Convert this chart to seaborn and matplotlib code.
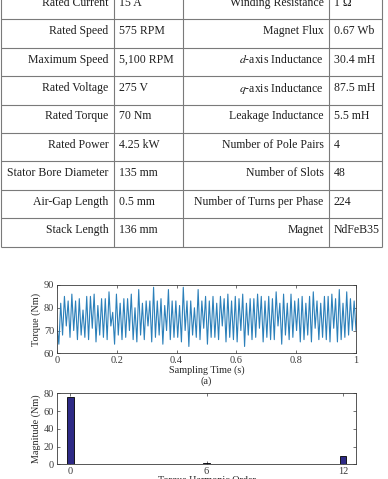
import numpy as np
import pandas as pd
import matplotlib
matplotlib.use("Agg")
import matplotlib.pyplot as plt
import seaborn as sns

# --- table of motor parameters (top, partially cropped) ---
left_labels = ["Rated Current", "Rated Speed", "Maximum Speed", "Rated Voltage",
               "Rated Torque", "Rated Power", "Stator Bore Diameter",
               "Air-Gap Length", "Stack Length"]
left_values = ["15 A", "575 RPM", "5,100 RPM", "275 V", "70 Nm", "4.25 kW",
               "135 mm", "0.5 mm", "136 mm"]
right_labels = ["Winding Resistance", "Magnet Flux", r"$d$-axis Inductance",
                r"$q$-axis Inductance", "Leakage Inductance",
                "Number of Pole Pairs", "Number of Slots",
                "Number of Turns per Phase", "Magnet"]
right_values = ["1 Ω", "0.67 Wb", "30.4 mH", "87.5 mH", "5.5 mH", "4", "48",
                "224", "NdFeB35"]

# --- (a) torque waveform: read peaks / troughs ---
torque_start = 72
torque_peaks = [82, 85, 83, 86, 83, 84, 79, 85, 85, 86,
                81, 84, 84, 87, 78, 86, 82, 84, 84, 86,
                80, 88, 82, 83, 83, 89, 83, 84, 81, 88,
                83, 83, 81, 89, 83, 83, 80, 88, 83, 85,
                83, 85, 82, 85, 84, 86, 83, 85, 84, 86,
                82, 84, 84, 86, 85, 83, 85, 84, 87, 82,
                86, 82, 86, 83, 84, 85, 82, 85, 87, 83,
                82, 85, 85, 86, 84, 88, 82, 87, 84, 83]
torque_troughs = [64, 68, 72, 67, 70, 66, 68, 67, 66, 71,
                  65, 68, 67, 66, 72, 64, 68, 66, 67, 70,
                  66, 65, 68, 66, 72, 65, 67, 68, 64, 70,
                  66, 67, 67, 65, 70, 63, 68, 67, 66, 71,
                  64, 67, 67, 66, 72, 65, 67, 66, 65, 70,
                  63, 68, 66, 67, 71, 65, 67, 66, 66, 72,
                  64, 68, 66, 67, 70, 65, 66, 68, 65, 71,
                  66, 67, 66, 65, 71, 65, 66, 67, 68, 70]

# --- (b) torque harmonics ---
harmonic_order = [0, 6, 12]
harmonic_mag = [76, 1.5, 9]

sns.set_style("ticks")
plt.rcParams['font.family'] = ['Liberation Serif', 'DejaVu Serif']
plt.rcParams['mathtext.fontset'] = 'stix'

W, H = 388, 479
fig = plt.figure(figsize=(W / 100, H / 100), dpi=100)

# table drawn in pixel coordinates
tab = fig.add_axes([0, 0, 1, 1])
tab.set_xlim(0, W)
tab.set_ylim(H, 0)
tab.axis("off")
row_h = 28.4
first_line = 19.3
col_x = [0.8, 113.7, 183.3, 328.7, 382]
row_lines = [first_line + i * row_h for i in range(len(left_labels))]
grid_c = "#7a7a7a"
tab.hlines(row_lines, 0.8, 382, color=grid_c, lw=0.8)
tab.vlines(col_x, -5, row_lines[-1], color=grid_c, lw=0.8)
fs_tab = 8.45
txt_c = "#1e1e1e"
for i in range(len(left_labels)):
    yc = row_lines[i] - row_h / 2 - 2.3
    tab.text(108.5, yc, left_labels[i], ha="right", va="center", fontsize=fs_tab, color=txt_c)
    tab.text(119, yc, left_values[i], ha="left", va="center", fontsize=fs_tab, color=txt_c)
    tab.text(323.5, yc, right_labels[i], ha="right", va="center", fontsize=fs_tab, color=txt_c)
    tab.text(334, yc, right_values[i], ha="left", va="center", fontsize=fs_tab, color=txt_c)

# torque series
torque = [torque_start]
for tr, pk in zip(torque_troughs, torque_peaks):
    torque += [tr, pk]
torque.append(70)
df_t = pd.DataFrame({"time": np.linspace(0, 1, len(torque)), "torque": torque})

spine_c = "#3a3a3a"

ax1 = fig.add_axes([57 / W, 1 - 353.3 / H, 299 / W, 68.3 / H])
sns.lineplot(data=df_t, x="time", y="torque", ax=ax1, color="#2c80ba", lw=0.8)
ax1.set_xlim(0, 1)
ax1.set_ylim(60, 90)
ax1.set_xticks([0, 0.2, 0.4, 0.6, 0.8, 1])
ax1.set_xticklabels(["0", "0.2", "0.4", "0.6", "0.8", "1"])
ax1.set_yticks([60, 70, 80, 90])
ax1.set_xlabel("Sampling Time (s)\n(a)", fontsize=7.3, labelpad=0, linespacing=1.25)
ax1.set_ylabel("Torque (Nm)", fontsize=7.3, labelpad=2)

df_h = pd.DataFrame({"order": harmonic_order, "mag": harmonic_mag})
ax2 = fig.add_axes([57 / W, 1 - 464.3 / H, 299 / W, 71 / H])
sns.barplot(data=df_h, x="order", y="mag", ax=ax2, native_scale=True, width=0.05,
            color="#2e2a86", edgecolor="black", linewidth=0.6, saturation=1)
ax2.set_xlim(-0.58, 12.57)
ax2.set_ylim(0, 80)
ax2.set_xticks([0, 6, 12])
ax2.set_xticklabels(["0", "6", "12"])
ax2.set_yticks([0, 20, 40, 60, 80])
ax2.set_xlabel("Torque Harmonic Order", fontsize=7.3, labelpad=0)
ax2.set_ylabel("Magnitude (Nm)", fontsize=7.3, labelpad=2)

for ax in (ax1, ax2):
    ax.tick_params(direction="in", top=True, right=True, labelsize=7.5,
                   length=2.5, width=0.5, pad=2, colors=spine_c)
    for sp in ax.spines.values():
        sp.set_visible(True)
        sp.set_color(spine_c)
        sp.set_linewidth(0.6)

fig.savefig("out.png", dpi=100)
